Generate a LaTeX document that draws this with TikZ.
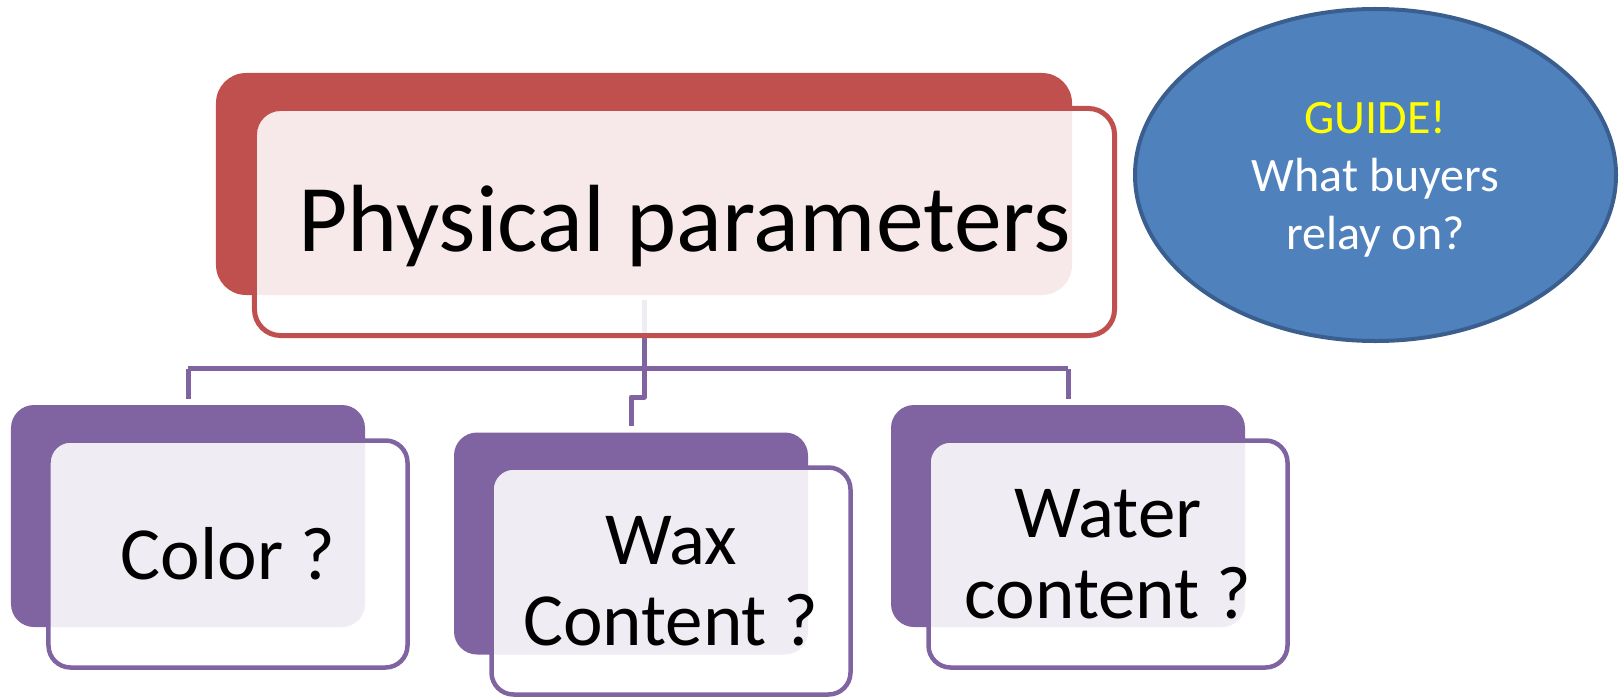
\documentclass[tikz,border=0pt]{standalone}
\usepackage{fontspec}
\setmainfont{Carlito}
\usetikzlibrary{shapes.geometric}
\definecolor{cred}{HTML}{C0504D}
\definecolor{cpurple}{HTML}{8064A2}
\definecolor{cblue}{HTML}{4F81BD}
\definecolor{cblueedge}{HTML}{3A5F8E}
\definecolor{cyellow}{HTML}{FFFF00}
\tikzset{
  redback/.style={rectangle, fill=cred, rounded corners=30bp, inner sep=0pt, minimum width=856bp, minimum height=222bp},
  redfront/.style={rectangle, draw=cred, line width=5bp, fill=white, fill opacity=0.88, text opacity=1, rounded corners=26bp, inner sep=0pt, minimum width=860bp, minimum height=227bp, align=center},
  purpback/.style={rectangle, fill=cpurple, rounded corners=23bp, inner sep=0pt, minimum width=354bp, minimum height=222bp},
  purpfront/.style={rectangle, draw=cpurple, line width=4.5bp, fill=white, fill opacity=0.88, text opacity=1, rounded corners=22bp, inner sep=0pt, minimum width=359bp, minimum height=227bp, align=center, font=\fontsize{75bp}{81bp}\selectfont},
  conn/.style={draw=cpurple, line width=5bp, line join=round},
  guide/.style={ellipse, fill=cblue, draw=cblueedge, line width=4bp, inner sep=0pt, minimum width=481bp, minimum height=332bp, align=center, text=white, font=\fontsize{48bp}{58bp}\selectfont}
}
\begin{document}
\begin{tikzpicture}[x=1bp,y=-1bp]
\useasboundingbox (0,0) rectangle (1619,697);
% back boxes
\node[redback] (rback) at (644,184) {};
\node[purpback] (pback1) at (188,516) {};
\node[purpback] (pback2) at (631,543.5) {};
\node[purpback] (pback3) at (1068,516) {};
% connectors
\coordinate (bar) at (0,368.5);
\coordinate (jog) at (0,397);
\draw[conn] (pback1.north |- bar) -- (pback3.north |- bar);
\draw[conn] (pback1.north |- bar) -- ([yshift=6bp]pback1.north);
\draw[conn] (pback3.north |- bar) -- ([yshift=6bp]pback3.north);
\draw[conn] ([yshift=-5bp]rback.south) -- (rback.south |- jog) -| ([yshift=6bp]pback2.north);
% front boxes
\node[redfront, font=\fontsize{95.5bp}{100bp}\selectfont] (rfront) at (684.5,222) {\raisebox{0pt}[\dimexpr\height+8bp\relax][\depth]{Physical parameters}};
\node[purpfront] (pfront1) at (228,554) {Color ?};
\node[purpfront] (pfront2) at (671,581) {Wax\\Content ?};
\node[purpfront] (pfront3) at (1108,554) {Water\\content ?};
% guide ellipse
\node[guide] (guide) at (1375.5,175) {\raisebox{0pt}[\dimexpr\height+10bp\relax][\depth]{\begin{tabular}{@{}c@{}}{\color{cyellow}GUIDE!}\\What buyers\\relay on?\end{tabular}}};
\end{tikzpicture}
\end{document}
